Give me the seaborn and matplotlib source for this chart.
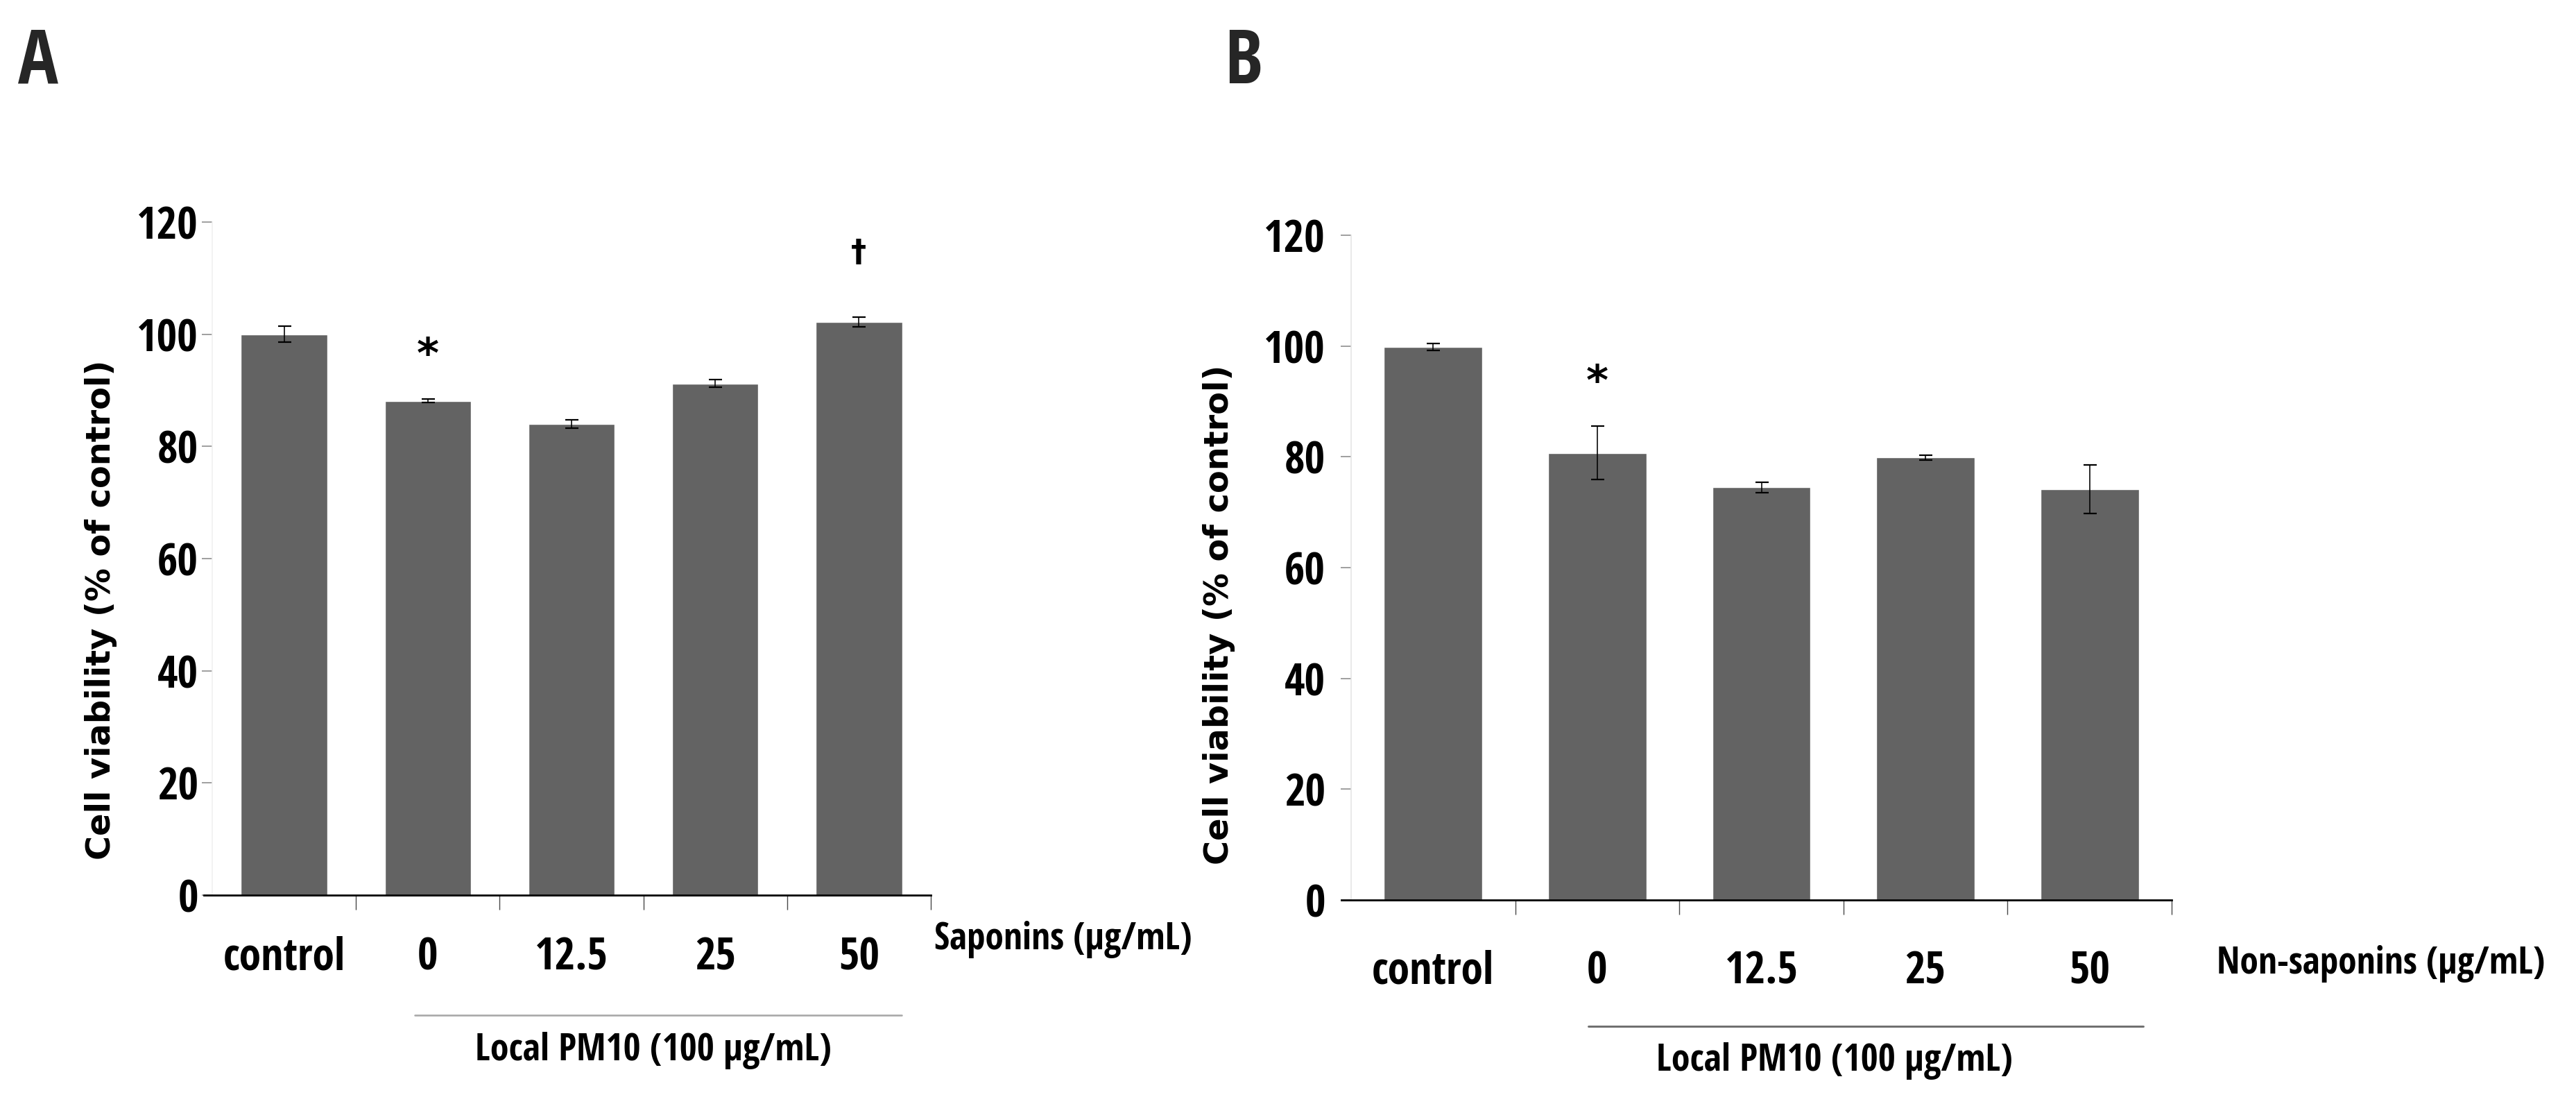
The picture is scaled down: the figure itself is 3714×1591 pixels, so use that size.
import matplotlib
matplotlib.use("Agg")
import matplotlib.pyplot as plt
import seaborn as sns
import numpy as np
import pandas as pd
from matplotlib.lines import Line2D

# ---------------- data ----------------
categories = ["control", "0", "12.5", "25", "50"]
saponin_values = [100.0, 88.1, 84.0, 91.2, 102.2]
saponin_errors = [1.4, 0.3, 0.7, 0.7, 0.9]
nonsaponin_values = [99.8, 80.7, 74.5, 79.9, 74.2]
nonsaponin_errors = [0.6, 4.8, 0.95, 0.45, 4.4]
y_ticks = [0, 20, 40, 60, 80, 100, 120]
y_label = "Cell viability (% of control)"
# significance marks: (category index, y position, symbol)
saponin_marks = [(1, 94.0, "*"), (4, 113.0, "\u2020")]
nonsaponin_marks = [(1, 91.2, "*")]

W, H, DPI = 3714, 1591, 100
PX = 72 / DPI  # points per pixel

sns.set_theme(style="white")
COND = ["Open Sans Condensed", "DejaVu Sans"]
plt.rcParams["font.family"] = COND
plt.rcParams["font.weight"] = "bold"

fig = plt.figure(figsize=(W / DPI, H / DPI), dpi=DPI)
fig.patch.set_facecolor("white")

axA = fig.add_axes([306 / W, 1 - 1290 / H, (1342 - 306) / W, (1290 - 320) / H])
axB = fig.add_axes([1948 / W, 1 - 1297 / H, (3131 - 1948) / W, (1297 - 339) / H])

panels = [
    (axA, saponin_values, saponin_errors, saponin_marks, 5, 59, -0.1322, 0.4237, "#f0f0f0"),
    (axB, nonsaponin_values, nonsaponin_errors, nonsaponin_marks, 22, 71, -0.1412, 0.429, "#e2e2e2"),
]

for ax, vals, errs, marks, ypad, xpad, lx, ly, spc in panels:
    df = pd.DataFrame({"group": categories, "viability": vals})
    sns.barplot(data=df, x="group", y="viability", color="#636363", saturation=1,
                width=0.6, errorbar=None, ax=ax, order=categories)
    pos = np.arange(len(categories))
    ax.errorbar(pos, vals, yerr=errs, fmt="none", ecolor="black",
                elinewidth=1.6 * PX, capsize=9.5 * PX, capthick=2.2 * PX, zorder=5)
    ax.set_xlim(-0.5, len(categories) - 0.5)
    ax.set_ylim(0, 120)
    ax.set_yticks(y_ticks)
    ax.set_facecolor("white")
    for s in ["top", "right"]:
        ax.spines[s].set_visible(False)
    ax.spines["left"].set_color(spc)
    ax.spines["left"].set_linewidth(1.5 * PX)
    ax.spines["bottom"].set_color("black")
    ax.spines["bottom"].set_linewidth(2.8 * PX)
    ax.spines["bottom"].set_bounds(-0.56, len(categories) - 0.5)
    ax.tick_params(axis="y", which="major", left=True, length=15 * PX, width=1.6 * PX,
                   color="#8a8a8a", pad=ypad * PX, labelsize=46, labelcolor="black")
    ax.tick_params(axis="x", which="major", bottom=True, length=0, pad=xpad * PX,
                   labelsize=46, labelcolor="black")
    ax.set_xticks(np.arange(len(categories)) + 0.5, minor=True)
    ax.tick_params(axis="x", which="minor", bottom=True, length=21 * PX, width=1.4 * PX,
                   color="#4a4a4a")
    for lbl in ax.get_xticklabels() + ax.get_yticklabels():
        lbl.set_fontfamily(COND)
        lbl.set_fontweight("bold")
    ax.set_xlabel("")
    ax.set_ylabel(y_label, fontfamily="DejaVu Sans", fontweight="bold", fontsize=34.5,
                  color="black")
    ax.yaxis.set_label_coords(lx, ly)
    for i, yv, sym in marks:
        ax.text(i, yv, sym, ha="center", va="baseline", fontsize=44 if sym == "*" else 32,
                fontfamily="DejaVu Sans", fontweight="bold", color="black")

# x-axis captions
fig.text(1347 / W, 1 - 1368 / H, "Saponins (\u03bcg/mL)", ha="left", va="baseline",
         fontsize=38.5, fontweight="bold", color="black")
fig.text(3196 / W, 1 - 1403 / H, "Non-saponins (\u03bcg/mL)", ha="left", va="baseline",
         fontsize=38.5, fontweight="bold", color="black")
fig.text(942 / W, 1 - 1528 / H, "Local PM10 (100 \u03bcg/mL)", ha="center", va="baseline",
         fontsize=39, fontweight="bold", color="black")
fig.text(2645 / W, 1 - 1543 / H, "Local PM10 (100 \u03bcg/mL)", ha="center", va="baseline",
         fontsize=39, fontweight="bold", color="black")

# group lines
fig.add_artist(Line2D([598 / W, 1300 / W], [1 - 1463 / H] * 2, color="#a8a8a8", lw=2.6 * PX))
fig.add_artist(Line2D([2290 / W, 3090 / W], [1 - 1479 / H] * 2, color="#707070", lw=3 * PX))

# panel letters
fig.text(26 / W, 1 - 120 / H, "A", ha="left", va="baseline", fontsize=78, fontweight="bold")
fig.text(1765 / W, 1 - 120 / H, "B", ha="left", va="baseline", fontsize=78, fontweight="bold")

fig.savefig("out.png", dpi=DPI, facecolor="white")
